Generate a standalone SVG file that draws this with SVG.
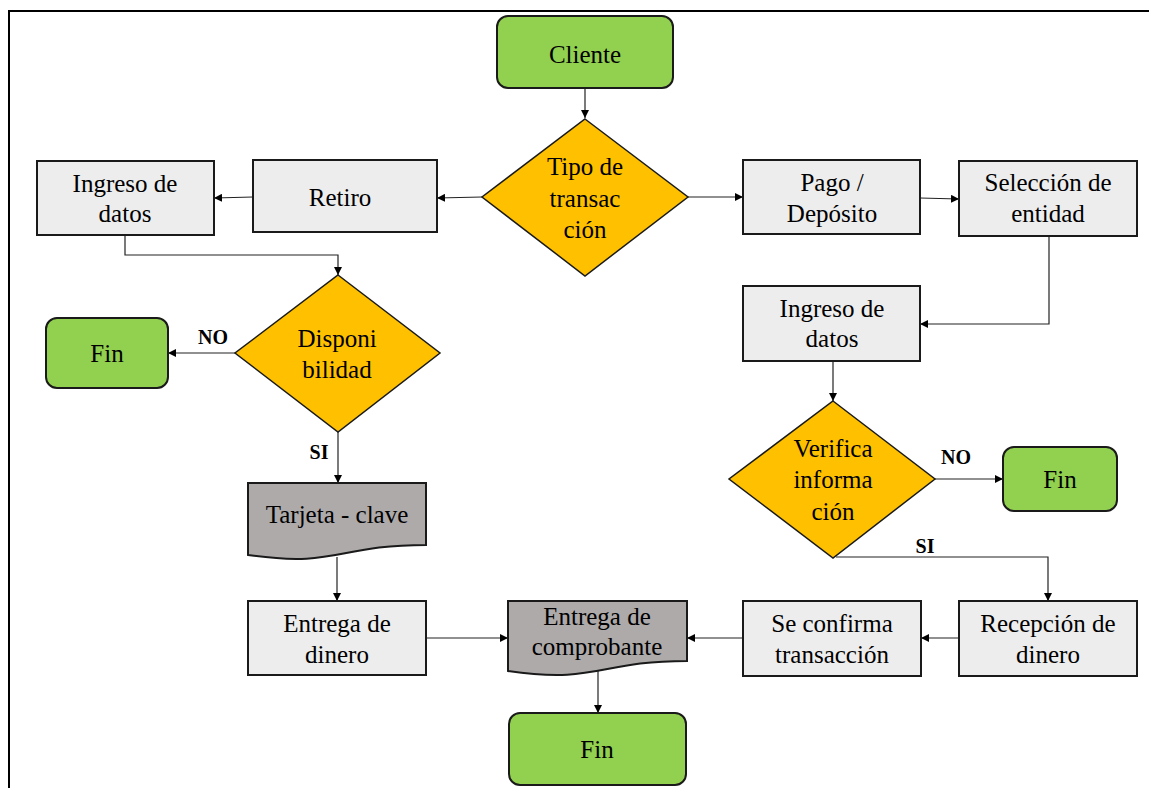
<svg xmlns="http://www.w3.org/2000/svg" width="1149" height="788" viewBox="0 0 1149 788" font-family="Liberation Serif, serif">
<style>
text{font-size:25px;fill:#000;text-anchor:middle}
.lbl{font-weight:bold;font-size:20px}
.term{fill:#92D050;stroke:#1a1a1a;stroke-width:2}
.dec{fill:#FFC000;stroke:#1a1a1a;stroke-width:1.5}
.proc{fill:#EDEDED;stroke:#1a1a1a;stroke-width:2}
.doc{fill:#AEAAAA;stroke:#1a1a1a;stroke-width:2}
.con{fill:none;stroke:#222;stroke-width:1.2}
</style>
<defs>
<marker id="ah" viewBox="0 0 10 10" refX="10" refY="5" markerWidth="8" markerHeight="8" markerUnits="userSpaceOnUse" orient="auto">
<path d="M0,0 L10,5 L0,10 Z" fill="#000"/>
</marker>
</defs>
<rect width="1149" height="788" fill="#fff"/>
<path d="M9,788 V11 H1149" fill="none" stroke="#000" stroke-width="2"/>

<g id="connectors">
<path class="con" d="M585,89 V118" marker-end="url(#ah)"/>
<path class="con" d="M482,197 L437,198" marker-end="url(#ah)"/>
<path class="con" d="M253,197 L214,198" marker-end="url(#ah)"/>
<path class="con" d="M125,235 V255 H338 V275" marker-end="url(#ah)"/>
<path class="con" d="M235,353 H168" marker-end="url(#ah)"/>
<path class="con" d="M338,432 V483" marker-end="url(#ah)"/>
<path class="con" d="M337,557 V601" marker-end="url(#ah)"/>
<path class="con" d="M426,638 H508" marker-end="url(#ah)"/>
<path class="con" d="M743,638 H687" marker-end="url(#ah)"/>
<path class="con" d="M598,670 V713" marker-end="url(#ah)"/>
<path class="con" d="M688,197 H743" marker-end="url(#ah)"/>
<path class="con" d="M920,198 L959,199" marker-end="url(#ah)"/>
<path class="con" d="M1049,236 V324 H920" marker-end="url(#ah)"/>
<path class="con" d="M833,361 V401" marker-end="url(#ah)"/>
<path class="con" d="M935,479 H1003" marker-end="url(#ah)"/>
<path class="con" d="M836,557 H1048 V601" marker-end="url(#ah)"/>
<path class="con" d="M959,638 H921" marker-end="url(#ah)"/>
<text class="lbl" font-family="Liberation Serif" x="213" y="344">NO</text>
<text class="lbl" font-family="Liberation Serif" x="319" y="459">SI</text>
<text class="lbl" font-family="Liberation Serif" x="956" y="464">NO</text>
<text class="lbl" font-family="Liberation Serif" x="925" y="553">SI</text>
</g>

<g id="cliente">
<rect class="term" x="497" y="16" width="176" height="72" rx="11"/>
<text font-family="Liberation Serif" x="585" y="63">Cliente</text>
</g>

<g id="tipo">
<path class="dec" d="M585,119 L688,197 L585,276 L482,197 Z"/>
<text font-family="Liberation Serif" x="585" y="175">Tipo de</text>
<text font-family="Liberation Serif" x="585" y="207">transac</text>
<text font-family="Liberation Serif" x="585" y="238">ción</text>
</g>

<g id="retiro">
<rect class="proc" x="253" y="160" width="184" height="72"/>
<text font-family="Liberation Serif" x="340" y="206">Retiro</text>
</g>

<g id="ingreso1">
<rect class="proc" x="37" y="161" width="177" height="74"/>
<text font-family="Liberation Serif" x="125" y="192">Ingreso de</text>
<text font-family="Liberation Serif" x="125" y="222">datos</text>
</g>

<g id="disponibilidad">
<path class="dec" d="M338,275 L440,353 L338,432 L235,353 Z"/>
<text font-family="Liberation Serif" x="337" y="347">Disponi</text>
<text font-family="Liberation Serif" x="337" y="378">bilidad</text>
</g>

<g id="fin1">
<rect class="term" x="46" y="318" width="122" height="70" rx="11"/>
<text font-family="Liberation Serif" x="107" y="362">Fin</text>
</g>

<g id="tarjeta">
<path class="doc" d="M248,483 H426 V545 C337,545 337,568 248,555 Z"/>
<text font-family="Liberation Serif" x="337" y="523">Tarjeta - clave</text>
</g>

<g id="entrega-dinero">
<rect class="proc" x="248" y="601" width="178" height="74"/>
<text font-family="Liberation Serif" x="337" y="632">Entrega de</text>
<text font-family="Liberation Serif" x="337" y="663">dinero</text>
</g>

<g id="comprobante">
<path class="doc" d="M508,601 H687 V661 C598,661 598,684 508,671 Z"/>
<text font-family="Liberation Serif" x="597" y="625">Entrega de</text>
<text font-family="Liberation Serif" x="597" y="655">comprobante</text>
</g>

<g id="fin3">
<rect class="term" x="509" y="713" width="177" height="72" rx="11"/>
<text font-family="Liberation Serif" x="597" y="758">Fin</text>
</g>

<g id="pago">
<rect class="proc" x="743" y="160" width="177" height="74"/>
<text font-family="Liberation Serif" x="832" y="191">Pago /</text>
<text font-family="Liberation Serif" x="832" y="222">Depósito</text>
</g>

<g id="seleccion">
<rect class="proc" x="959" y="161" width="178" height="75"/>
<text font-family="Liberation Serif" x="1048" y="191">Selección de</text>
<text font-family="Liberation Serif" x="1048" y="222">entidad</text>
</g>

<g id="ingreso2">
<rect class="proc" x="743" y="286" width="177" height="75"/>
<text font-family="Liberation Serif" x="832" y="317">Ingreso de</text>
<text font-family="Liberation Serif" x="832" y="347">datos</text>
</g>

<g id="verifica">
<path class="dec" d="M833,401 L935,479 L833,558 L729,479 Z"/>
<text font-family="Liberation Serif" x="833" y="457">Verifica</text>
<text font-family="Liberation Serif" x="833" y="488">informa</text>
<text font-family="Liberation Serif" x="833" y="520">ción</text>
</g>

<g id="fin2">
<rect class="term" x="1003" y="447" width="114" height="64" rx="11"/>
<text font-family="Liberation Serif" x="1060" y="488">Fin</text>
</g>

<g id="recepcion">
<rect class="proc" x="959" y="601" width="178" height="75"/>
<text font-family="Liberation Serif" x="1048" y="632">Recepción de</text>
<text font-family="Liberation Serif" x="1048" y="663">dinero</text>
</g>

<g id="confirma">
<rect class="proc" x="743" y="601" width="178" height="75"/>
<text font-family="Liberation Serif" x="832" y="632">Se confirma</text>
<text font-family="Liberation Serif" x="832" y="663">transacción</text>
</g>
</svg>
